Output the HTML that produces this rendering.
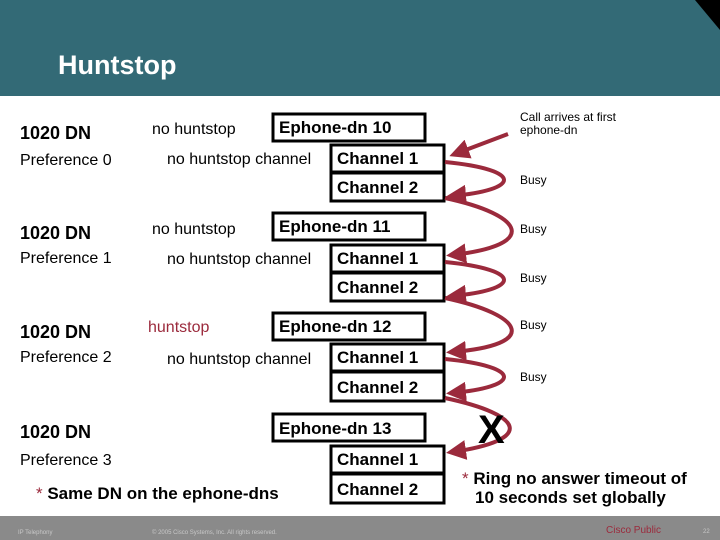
<!DOCTYPE html>
<html><head><meta charset="utf-8"><style>
html,body{margin:0;padding:0;background:#fff;}
svg{display:block;font-family:"Liberation Sans",Arial,sans-serif;}
</style></head><body>
<svg width="720" height="540" viewBox="0 0 720 540" xmlns="http://www.w3.org/2000/svg">
<defs><marker id="ah" markerWidth="5" markerHeight="5" refX="3.5" refY="2.5" orient="auto" markerUnits="strokeWidth"><path d="M0,0 L5,2.5 L0,5 Z" fill="#9b2a3c"/></marker></defs>
<rect x="0" y="0" width="720" height="96" fill="#336a76"/>
<polygon points="695,0 720,0 720,30" fill="#000"/>
<text x="58" y="74" font-size="27" font-weight="bold" fill="#fff">Huntstop</text>

<g font-size="18" fill="#000">
<text x="20" y="139" font-weight="bold">1020 DN</text>
<text x="20" y="239" font-weight="bold">1020 DN</text>
<text x="20" y="338" font-weight="bold">1020 DN</text>
<text x="20" y="438" font-weight="bold">1020 DN</text>
</g>
<g font-size="16">
<text x="20" y="165">Preference 0</text>
<text x="20" y="263">Preference 1</text>
<text x="20" y="362">Preference 2</text>
<text x="20" y="465">Preference 3</text>
<text x="152" y="134">no huntstop</text>
<text x="152" y="234">no huntstop</text>
<text x="148" y="332" fill="#9b2a3c">huntstop</text>
<text x="167" y="164">no huntstop channel</text>
<text x="167" y="264">no huntstop channel</text>
<text x="167" y="364">no huntstop channel</text>
</g>

<g fill="#fff" stroke="#000" stroke-width="3">
<rect x="273" y="114" width="152" height="27"/>
<rect x="331" y="145" width="113" height="27"/><rect x="331" y="173" width="113" height="28"/>
<rect x="273" y="213" width="152" height="27"/>
<rect x="331" y="245" width="113" height="27"/><rect x="331" y="273" width="113" height="28"/>
<rect x="273" y="313" width="152" height="27"/>
<rect x="331" y="344" width="113" height="27"/><rect x="331" y="372" width="113" height="29"/>
<rect x="273" y="414" width="152" height="27"/>
<rect x="331" y="446" width="113" height="27"/><rect x="331" y="474" width="113" height="29"/>
</g>
<g font-size="17" font-weight="bold">
<text x="279" y="133">Ephone-dn 10</text>
<text x="337" y="164">Channel 1</text><text x="337" y="193">Channel 2</text>
<text x="279" y="232">Ephone-dn 11</text>
<text x="337" y="264">Channel 1</text><text x="337" y="293">Channel 2</text>
<text x="279" y="332">Ephone-dn 12</text>
<text x="337" y="363">Channel 1</text><text x="337" y="393">Channel 2</text>
<text x="279" y="434">Ephone-dn 13</text>
<text x="337" y="465">Channel 1</text><text x="337" y="495">Channel 2</text>
</g>

<g fill="none" stroke="#9b2a3c" stroke-width="4" marker-end="url(#ah)">
<path d="M508,134 L455,154"/>
<path d="M445,162 C525,170 520,190 452,196"/>
<path d="M445,198 C525,215 540,245 452,255"/>
<path d="M445,262 C525,270 520,290 452,296"/>
<path d="M445,298 C525,315 540,345 452,352"/>
<path d="M445,359 C525,367 520,387 452,393"/>
<path d="M445,398 C525,415 535,440 452,452"/>
</g>

<g font-size="12">
<text x="520" y="121">Call arrives at first</text>
<text x="520" y="134">ephone-dn</text>
<text x="520" y="184">Busy</text>
<text x="520" y="233">Busy</text>
<text x="520" y="282">Busy</text>
<text x="520" y="329">Busy</text>
<text x="520" y="381">Busy</text>
</g>
<text x="478" y="443" font-size="40" font-weight="bold">X</text>
<g font-size="17" font-weight="bold">
<text x="36" y="499"><tspan fill="#9b2a3c" font-weight="normal">* </tspan>Same DN on the ephone-dns</text>
<text x="462" y="484"><tspan fill="#9b2a3c" font-weight="normal">* </tspan>Ring no answer timeout of</text>
<text x="475" y="503">10 seconds set globally</text>
</g>

<rect x="0" y="516" width="720" height="24" fill="#8a8a8a"/>
<g font-size="6" fill="#c8c8c8">
<text x="18" y="534">IP Telephony</text>
<text x="152" y="534">© 2005 Cisco Systems, Inc. All rights reserved.</text>
<text x="703" y="533">22</text>
</g>
<text x="606" y="533" font-size="10" fill="#9b2a3c">Cisco Public</text>
</svg>
</body></html>
